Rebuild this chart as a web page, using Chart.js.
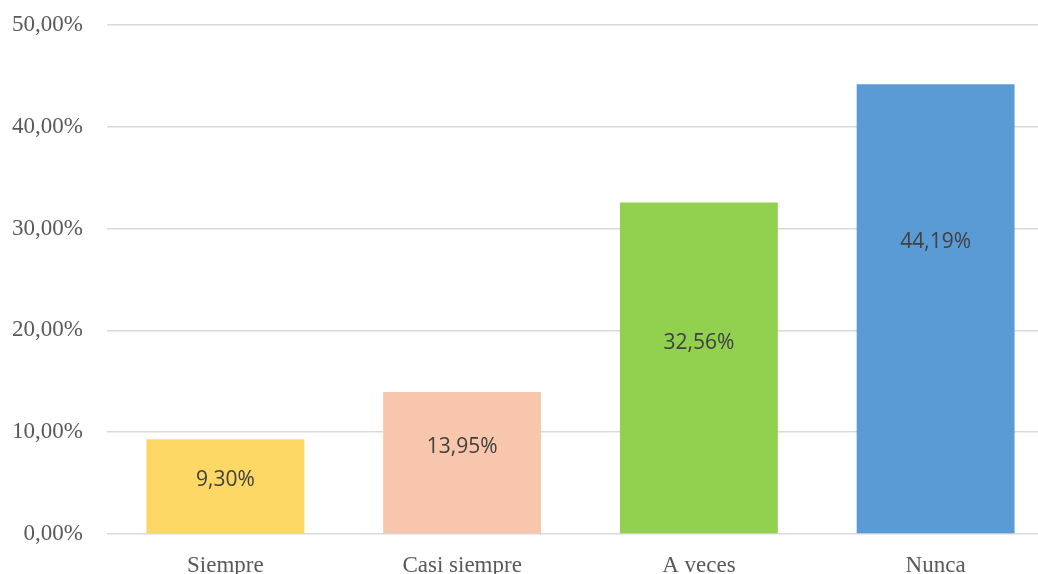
<!DOCTYPE html>
<html lang="es">
<head>
<meta charset="utf-8">
<title>Frecuencia</title>
<script src="https://cdn.jsdelivr.net/npm/chart.js@4/dist/chart.umd.min.js"></script>
<style>
  html, body { margin: 0; padding: 0; background: #fff; overflow: hidden; }
  /* plot area runs past the right edge of the window, like the original crop */
  .wrap { position: relative; width: 1054px; height: 574px; }
</style>
</head>
<body>
<div class="wrap"><canvas id="chart"></canvas></div>
<script>
// === DATA ===
var CATEGORIES = ['Siempre', 'Casi siempre', 'A veces', 'Nunca'];
var VALUES     = [9.30, 13.95, 32.56, 44.19];
var Y_TICKS    = [0, 10, 20, 30, 40, 50];

(function () {
  'use strict';

  var COLORS     = ['#FDD865', '#F8C6AD', '#92D050', '#5B9BD5'];
  var LABEL_AT   = [0.57, 0.61, 0.575, 0.65];   // label anchor as share of bar height
  var TICK_COLOR = '#595959';
  var SERIF      = { family: "'Liberation Serif', 'Times New Roman', serif", size: 23 };

  function pct(v) { return v.toFixed(2).replace('.', ',') + '%'; }

  // draws value labels inside the bars
  var barLabels = {
    id: 'barLabels',
    afterDatasetsDraw: function (chart) {
      var ctx  = chart.ctx;
      var meta = chart.getDatasetMeta(0);
      var y    = chart.scales.y;
      ctx.save();
      ctx.font         = '21px "Open Sans", sans-serif';
      ctx.fillStyle    = '#404040';
      ctx.textAlign    = 'center';
      ctx.textBaseline = 'middle';
      meta.data.forEach(function (bar, i) {
        ctx.fillText(pct(VALUES[i]), bar.x, y.getPixelForValue(VALUES[i] * LABEL_AT[i]));
      });
      ctx.restore();
    }
  };

  new Chart(document.getElementById('chart'), {
    type: 'bar',
    data: {
      labels: CATEGORIES,
      datasets: [{
        data:               VALUES,
        backgroundColor:    COLORS,
        barPercentage:      0.667,
        categoryPercentage: 1.0
      }]
    },
    options: {
      responsive:          true,
      maintainAspectRatio: false,
      animation:           false,
      layout: { padding: { top: 25, left: 0, right: 0, bottom: 0 } },
      plugins: {
        legend:  { display: false },
        tooltip: { enabled: false }
      },
      scales: {
        x: {
          grid:   { display: false },
          border: { display: false },
          ticks:  { font: SERIF, color: TICK_COLOR, padding: 10 },
          afterFit: function (s) { s.height = 40; s.paddingLeft = 0; s.paddingRight = 0; }
        },
        y: {
          min: 0,
          max: 50,
          afterBuildTicks: function (s) {
            s.ticks = Y_TICKS.map(function (v) { return { value: v }; });
          },
          grid:   { color: '#D9D9D9', lineWidth: 1.5, drawTicks: false },
          border: { display: false },
          ticks:  { font: SERIF, color: TICK_COLOR, padding: 24, callback: function (v) { return pct(v); } },
          afterFit: function (s) { s.width = 107; s.paddingTop = 0; s.paddingBottom = 0; }
        }
      }
    },
    plugins: [barLabels]
  });
}());
</script>
</body>
</html>
